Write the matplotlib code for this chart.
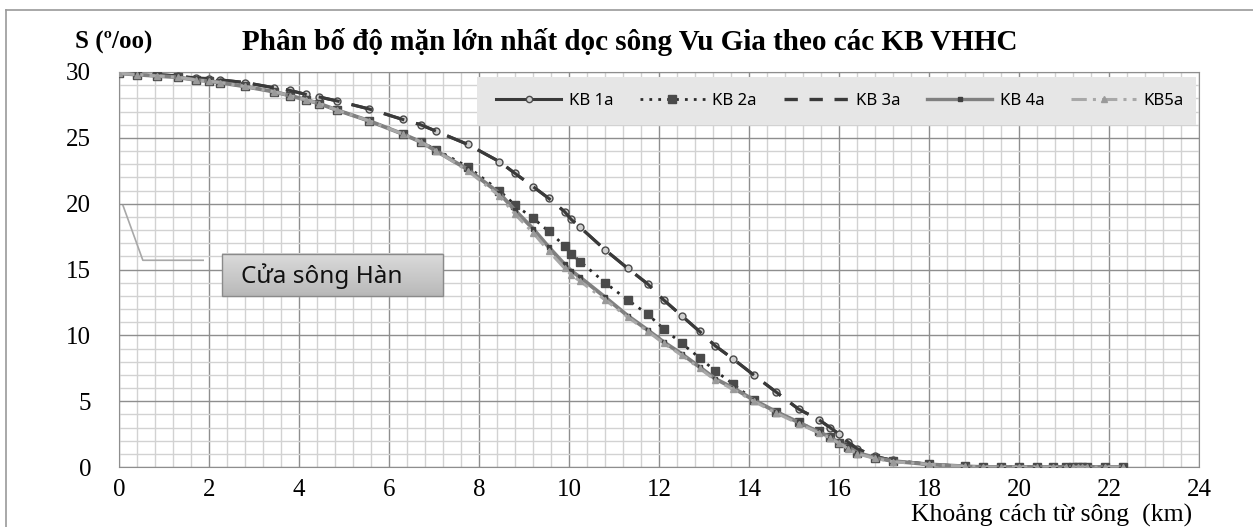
#%% Salinity profile along Vu Gia river - matplotlib recreation
import numpy as np
import matplotlib.pyplot as plt
from matplotlib.lines import Line2D
from matplotlib.patches import Rectangle
from matplotlib.ticker import MultipleLocator

# Data (distance km, salinity per mille)
x_km = [0, 0.4, 0.85, 1.3, 1.7, 2.0, 2.25, 2.8, 3.45, 3.8, 4.15, 4.45, 4.85, 5.55, 6.3,
        6.7, 7.05, 7.75, 8.45, 8.8, 9.2, 9.55, 9.9, 10.05, 10.25, 10.8, 11.3, 11.75, 12.1, 12.5,
        12.9, 13.25, 13.65, 14.1, 14.6, 15.1, 15.55, 15.8, 16.0, 16.2, 16.4, 16.8, 17.2, 18.0, 18.8,
        19.2, 19.6, 20.0, 20.4, 20.75, 21.05, 21.2, 21.3, 21.4, 21.5, 21.9, 22.3]

kb1a = [30, 29.9, 29.8, 29.7, 29.55, 29.5, 29.4, 29.2, 28.8, 28.6, 28.3, 28.1, 27.8, 27.2, 26.4,
        26.0, 25.5, 24.5, 23.2, 22.3, 21.3, 20.4, 19.4, 18.8, 18.2, 16.5, 15.1, 13.9, 12.7, 11.5,
        10.3, 9.2, 8.2, 7.0, 5.7, 4.4, 3.6, 3.0, 2.5, 1.9, 1.4, 0.8, 0.5, 0.2, 0.05,
        0, 0, 0, 0, 0, 0, 0, 0, 0, 0, 0, 0]
kb2a = [29.9, 29.8, 29.7, 29.6, 29.4, 29.3, 29.2, 28.9, 28.5, 28.2, 27.9, 27.6, 27.1, 26.3, 25.3,
        24.7, 24.1, 22.8, 21.0, 19.9, 18.9, 17.9, 16.8, 16.2, 15.6, 14.0, 12.7, 11.6, 10.5, 9.4,
        8.3, 7.3, 6.3, 5.1, 4.2, 3.4, 2.7, 2.3, 1.8, 1.5, 1.1, 0.7, 0.45, 0.2, 0.05,
        0, 0, 0, 0, 0, 0, 0, 0, 0, 0, 0, 0]
kb3a = [30, 29.9, 29.8, 29.7, 29.5, 29.5, 29.4, 29.2, 28.8, 28.6, 28.3, 28.1, 27.8, 27.2, 26.4,
        26.0, 25.5, 24.5, 23.2, 22.3, 21.3, 20.4, 19.4, 18.8, 18.2, 16.5, 15.1, 13.9, 12.7, 11.5,
        10.3, 9.2, 8.2, 7.0, 5.7, 4.4, 3.6, 3.0, 2.5, 1.9, 1.4, 0.8, 0.5, 0.2, 0.05,
        0, 0, 0, 0, 0, 0, 0, 0, 0, 0, 0, 0]
kb4a = [29.9, 29.8, 29.7, 29.6, 29.4, 29.3, 29.2, 28.9, 28.5, 28.2, 27.9, 27.6, 27.1, 26.3, 25.3,
        24.7, 24.0, 22.6, 20.8, 19.5, 18.1, 16.7, 15.4, 14.9, 14.4, 12.9, 11.5, 10.4, 9.5, 8.6,
        7.6, 6.7, 6.0, 5.1, 4.2, 3.4, 2.65, 2.3, 1.8, 1.5, 1.1, 0.7, 0.45, 0.2, 0.05,
        0, 0, 0, 0, 0, 0, 0, 0, 0, 0, 0, 0]
kb5a = [29.9, 29.8, 29.7, 29.6, 29.4, 29.3, 29.2, 28.9, 28.5, 28.2, 27.9, 27.6, 27.1, 26.3, 25.3,
        24.7, 24.0, 22.5, 20.6, 19.2, 17.8, 16.4, 15.1, 14.6, 14.1, 12.7, 11.4, 10.3, 9.4, 8.5,
        7.5, 6.6, 5.9, 5.0, 4.1, 3.3, 2.6, 2.2, 1.8, 1.4, 1.0, 0.65, 0.4, 0.2, 0.05,
        0, 0, 0, 0, 0, 0, 0, 0, 0, 0, 0, 0]

series_names = ['KB 1a', 'KB 2a', 'KB 3a', 'KB 4a', 'KB5a']
title = 'Phân bố độ mặn lớn nhất dọc sông Vu Gia theo các KB VHHC'
y_label = 'S (º/oo)'
x_label = 'Khoảng cách từ sông  (km)'
note = 'Cửa sông Hàn'

serif = 'Liberation Serif'
sans = 'Noto Sans'

#%% Figure and axes
W, H = 1253, 527
fig = plt.figure(figsize=(W / 100, H / 100), dpi=100)
ax = fig.add_axes([119 / W, (H - 467) / H, 1080 / W, 395 / H])

# outer frame (left + top only visible)
fig.add_artist(Line2D([6 / W, 6 / W], [0, 1 - 10 / H], color='#9a9a9a', lw=1.2))
fig.add_artist(Line2D([6 / W, 1], [1 - 10 / H, 1 - 10 / H], color='#9a9a9a', lw=1.2))

ax.set_xlim(0, 24)
ax.set_ylim(0, 30)
ax.xaxis.set_major_locator(MultipleLocator(2))
ax.xaxis.set_minor_locator(MultipleLocator(0.4))
ax.yaxis.set_major_locator(MultipleLocator(5))
ax.yaxis.set_minor_locator(MultipleLocator(1))
ax.grid(which='minor', color='#d2d2d2', lw=1.0)
ax.grid(which='major', color='#8e8e8e', lw=1.0)
ax.set_axisbelow(True)
for s in ax.spines.values():
    s.set_color('#8e8e8e')
ax.tick_params(which='both', length=0)
ax.tick_params(axis='x', pad=9, labelsize=18)
ax.tick_params(axis='y', pad=20, labelsize=18)
for lab in ax.get_xticklabels() + ax.get_yticklabels():
    lab.set_fontfamily(serif)

#%% Series
dark = '#3a3a3a'
upper_dash = (0, (7, 4))
ax.plot(x_km, kb1a, color=dark, lw=2.2, ls=upper_dash, marker='o', ms=5,
        mfc='#cfcfcf', mec='#4a4a4a', mew=1.0, zorder=3)
ax.plot(x_km, kb2a, color='#2a2a2a', lw=2.0, ls=(0, (1, 2.2)), marker='s', ms=5.5,
        mfc='#4a4a4a', mec='#4a4a4a', zorder=3)
ax.plot(x_km, kb3a, color=dark, lw=2.2, ls=upper_dash, zorder=3)
ax.plot(x_km, kb4a, color='#808080', lw=2.8, marker='s', ms=3.5,
        mfc='#404040', mec='#404040', zorder=3)
ax.plot(x_km, kb5a, color='#a8a8a8', lw=2.2, ls=(0, (5, 2, 1, 2)), marker='^', ms=4,
        mfc='#9a9a9a', mec='#9a9a9a', zorder=4)

#%% Callout "Cửa sông Hàn"
ax.plot([0.09, 0.53, 1.87], [19.85, 15.7, 15.7], color='#a8a8a8', lw=1.2, zorder=5)
grad = np.linspace(0, 1, 50).reshape(-1, 1)
ax.imshow(grad, extent=(2.29, 7.2, 13.0, 16.2), cmap='Greys', vmin=-1.6, vmax=5.0,
          aspect='auto', origin='upper', zorder=5)
ax.add_patch(Rectangle((2.29, 13.0), 4.91, 3.2, fill=False, ec='#8a8a8a', lw=1.0, zorder=6))
ax.text(2.72, 14.5, note, fontsize=17.5, family=sans, color='#111111', va='center', zorder=7)
ax.set_xlim(0, 24)
ax.set_ylim(0, 30)

#%% Legend (proxy handles so KB 1a shows its solid line)
handles = [
    Line2D([], [], color=dark, lw=2.2, marker='o', ms=4.5, mfc='#cfcfcf', mec='#4a4a4a'),
    Line2D([], [], color='#2a2a2a', lw=2.0, ls=(0, (1, 2.2)), marker='s', ms=5.5,
           mfc='#4a4a4a', mec='#4a4a4a'),
    Line2D([], [], color=dark, lw=2.4, ls=(0, (4, 3.5))),
    Line2D([], [], color='#808080', lw=2.4, marker='s', ms=3.5, mfc='#404040', mec='#404040'),
    Line2D([], [], color='#a8a8a8', lw=2.2, ls=(0, (5, 2, 1, 2)), marker='^', ms=4,
           mfc='#9a9a9a', mec='#9a9a9a'),
]
fig.add_artist(Rectangle((477 / W, 1 - 125 / H), 719 / W, 48 / H, transform=fig.transFigure,
                         fc='#e6e6e6', ec='none', zorder=1))
fig.legend(handles, series_names, loc='center', bbox_to_anchor=(840 / W, 1 - 101 / H),
           ncol=5, frameon=False, handlelength=3.9, handletextpad=0.45, columnspacing=1.6,
           prop={'family': sans, 'size': 12})

#%% Titles and axis labels
fig.text(75 / W, 1 - 42 / H, y_label, family=serif, weight='bold', fontsize=18,
         ha='left', va='center')
fig.text(630 / W, 1 - 42 / H, title, family=serif, weight='bold', fontsize=21,
         ha='center', va='center')
fig.text(1192 / W, 1 - 527 / H, x_label, family=serif, fontsize=18.5,
         ha='right', va='bottom')

plt.savefig('out.png', dpi=100)
plt.close()
